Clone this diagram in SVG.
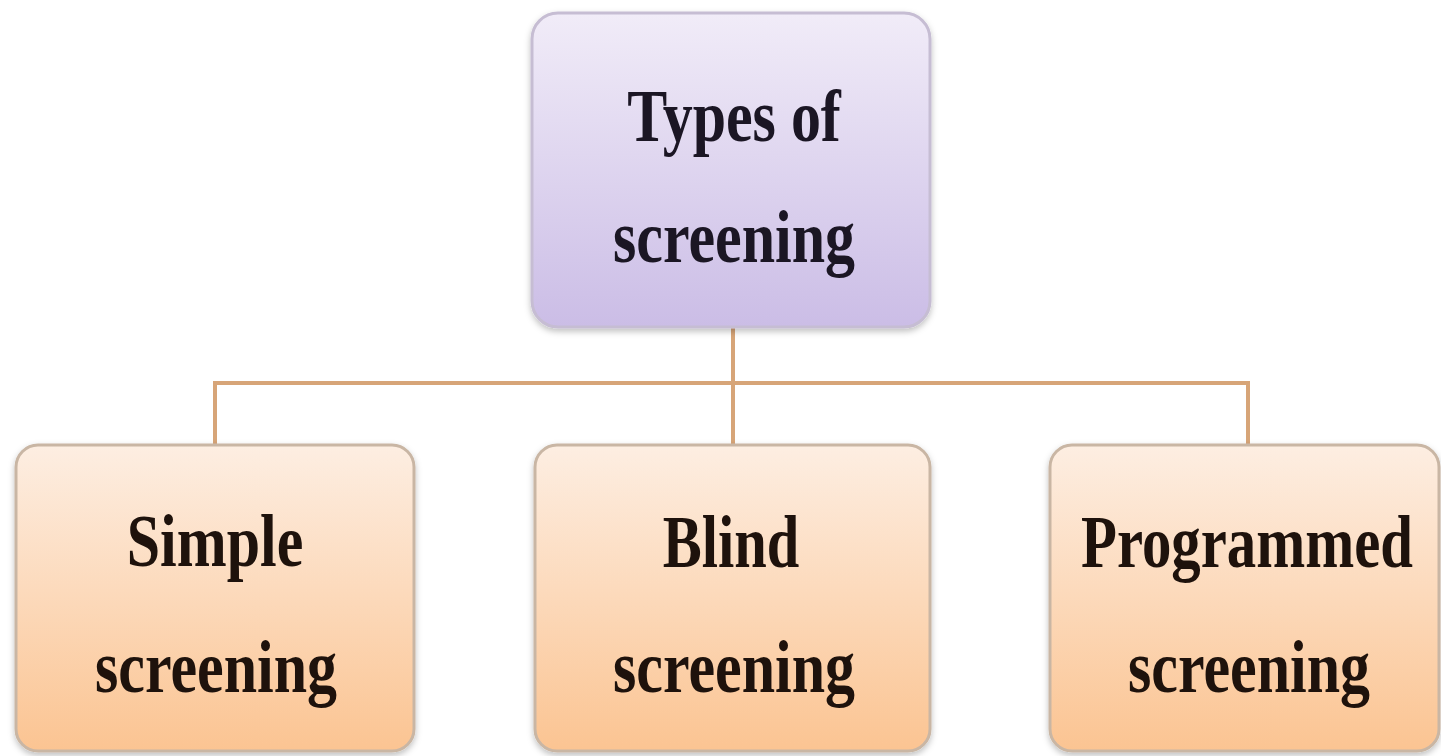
<svg xmlns="http://www.w3.org/2000/svg" width="1441" height="756" viewBox="0 0 1441 756">
  <defs>
    <linearGradient id="gTop" x1="0" y1="0" x2="0" y2="1">
      <stop offset="0" stop-color="#f1ecf8"/>
      <stop offset="1" stop-color="#cbbde6"/>
    </linearGradient>
    <linearGradient id="gBot" x1="0" y1="0" x2="0" y2="1">
      <stop offset="0" stop-color="#fdeee2"/>
      <stop offset="1" stop-color="#fbc492"/>
    </linearGradient>
    <filter id="sh" x="-5%" y="-5%" width="110%" height="115%">
      <feDropShadow dx="0" dy="3" stdDeviation="3" flood-color="#000" flood-opacity="0.25"/>
    </filter>
  </defs>
  <style>
    .top { fill: url(#gTop); stroke: #c6bdd3; stroke-width: 3; filter: url(#sh); }
    .bot { fill: url(#gBot); stroke: #c9b6a4; stroke-width: 3; filter: url(#sh); }
    .lbl { font-family: "Liberation Serif", "Times New Roman", serif; font-weight: bold; font-size: 74px; text-anchor: middle; }
    .tl { fill: #1b1624; }
    .bl { fill: #1e120c; }
    .conn { fill: none; stroke: #d7a578; stroke-width: 4; }
  </style>
  <rect width="1441" height="756" fill="#ffffff"/>
  <g id="connectors">
    <path class="conn" d="M733 328 V383 M215 445 V383 H1248 V445 M733 383 V445"/>
  </g>
  <g id="node-types">
    <rect class="top" x="532" y="13" width="398" height="314" rx="26"/>
    <text class="lbl tl" transform="translate(734 141) scale(0.81 1)">Types of</text>
    <text class="lbl tl" transform="translate(734 262) scale(0.81 1)">screening</text>
  </g>
  <g id="node-simple">
    <rect class="bot" x="16" y="445" width="398" height="306" rx="22"/>
    <text class="lbl bl" transform="translate(215 566) scale(0.81 1)">Simple</text>
    <text class="lbl bl" transform="translate(216 692) scale(0.81 1)">screening</text>
  </g>
  <g id="node-blind">
    <rect class="bot" x="535" y="445" width="395" height="306" rx="22"/>
    <text class="lbl bl" transform="translate(731 567) scale(0.79 1)">Blind</text>
    <text class="lbl bl" transform="translate(734 692) scale(0.81 1)">screening</text>
  </g>
  <g id="node-programmed">
    <rect class="bot" x="1050" y="445" width="389" height="306" rx="22"/>
    <text class="lbl bl" transform="translate(1247 567) scale(0.795 1)">Programmed</text>
    <text class="lbl bl" transform="translate(1249 692) scale(0.81 1)">screening</text>
  </g>
</svg>
